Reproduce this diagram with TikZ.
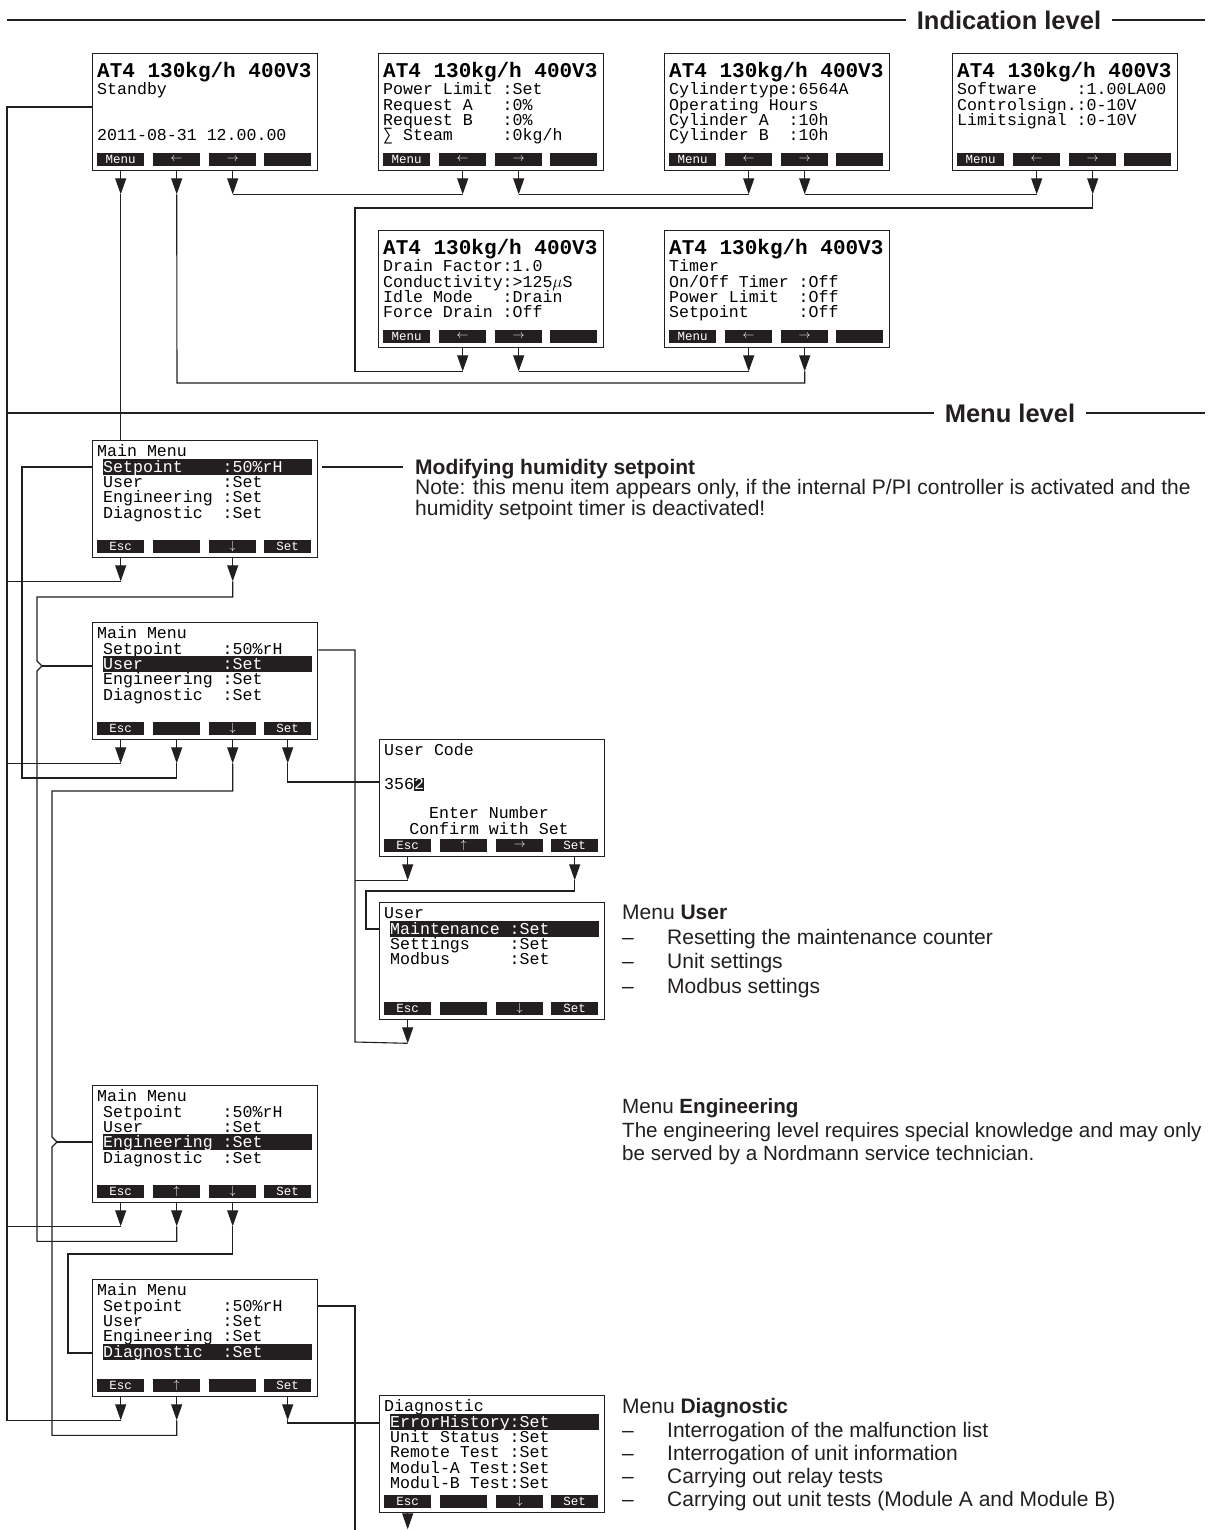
\documentclass[tikz,border=0pt]{standalone}
\usepackage{fontspec}
\setmainfont{Liberation Sans}
\setmonofont{Liberation Mono}
\newfontfamily\symfont{DejaVu Sans Mono}
\usetikzlibrary{positioning, calc, arrows.meta}
\definecolor{ink}{HTML}{231F20}

\newcommand{\lcdfont}{\ttfamily\fontsize{16.6}{15.4}\selectfont\lineskiplimit=-30pt}
\newcommand{\hl}[1]{\makebox[0pt][l]{\smash{\textcolor{ink}{\rule[-2.5pt]{209pt}{16pt}}}}\textcolor{white}{#1}}
\newcommand{\hlc}[1]{\makebox[0pt][l]{\smash{\textcolor{ink}{\rule[-1pt]{0.6em}{13pt}}}}\textcolor{white}{#1}}
\newcommand{\ind}{\hspace*{6pt}}
\newcommand{\sumc}{\makebox[0.6em]{\symfont ∑}}
\newcommand{\muc}{\makebox[0.6em]{$\mu$}}
\newcommand{\dashitem}[1]{\makebox[45pt][l]{–}#1}

\tikzset{
    lcdbox/.style={draw=ink, line width=1.3pt, minimum width=225pt, minimum height=117pt, inner sep=0pt, anchor=north west},
    softkey/.style={fill=ink, text=white, minimum width=47pt, minimum height=13pt, inner sep=0pt, anchor=south west, font=\ttfamily\fontsize{12.5}{13}\selectfont},
    lcdhead/.style={anchor=north west, inner sep=0pt, font=\ttfamily\bfseries\fontsize{21}{21}\selectfont},
    lcdtext/.style={anchor=north west, inner sep=0pt, align=left, font=\lcdfont},
    keyarr/.style={draw=ink, line width=1.1pt, -{Triangle[length=16pt,width=11pt]}},
    wire/.style={draw=ink, line width=1.1pt},
    levelline/.style={draw=ink, line width=1.1pt},
    levellabel/.style={fill=white, text=ink, inner xsep=11pt, inner ysep=2pt, font=\bfseries\fontsize{25.5}{26}\selectfont},
    notetext/.style={anchor=north west, inner sep=0pt, align=left, text=ink},
}

% one display: box and its four soft keys
\newcommand{\lcd}[7]{
    \node[lcdbox] (#1) at (#2,#3) {};
    \node[softkey] (#1-1) at ($(#1.south west)+(5,-5)$) {#4};
    \node[softkey] (#1-2) at ($(#1.south west)+(61,-5)$) {#5};
    \node[softkey] (#1-3) at ($(#1.south west)+(117,-5)$) {#6};
    \node[softkey] (#1-4) at ($(#1.south west)+(172,-5)$) {#7};
}
\newcommand{\athead}[1]{
    \node[lcdhead] (#1-t) at ($(#1.north west)+(5,8.5)$) {\rule{0pt}{16pt}AT4 130kg/h 400V3};
}
\newcommand{\lcdbody}[3]{
    \node[lcdtext] (#1-b) at ($(#1.north west)+(5,#2)$) {\rule{0pt}{13pt}#3};
}
\newcommand{\keyout}[2]{
    \draw[keyarr] (#1-#2 |- #1.south) -- ++(0,23) coordinate (#1-#2t);
}

\begin{document}
\begin{tikzpicture}[x=1pt, y=-1pt]
    \path[use as bounding box, fill=white] (0,0) rectangle (1219,1530);

    % levels
    \draw[levelline] (7,20) -- (1205,20);
    \node[levellabel] (indlevel) at (1009,20) {Indication level};
    \draw[levelline] (7,413) -- (1205,413);
    \node[levellabel] (menulevel) at (1010,413) {Menu level};

    % indication level
    \lcd{stby}{92}{53}{Menu}{$\leftarrow$}{$\rightarrow$}{}
    \athead{stby}
    \lcdbody{stby}{28.5}{Standby\\~\\~\\2011-08-31~12.00.00}
    \lcd{scr2}{378}{53}{Menu}{$\leftarrow$}{$\rightarrow$}{}
    \athead{scr2}
    \lcdbody{scr2}{28.5}{Power~Limit~:Set\\Request~A~~~:0\%\\Request~B~~~:0\%\\\sumc~Steam~~~~~:0kg/h}
    \lcd{scr3}{664}{53}{Menu}{$\leftarrow$}{$\rightarrow$}{}
    \athead{scr3}
    \lcdbody{scr3}{28.5}{Cylindertype:6564A\\Operating~Hours\\Cylinder~A~~:10h\\Cylinder~B~~:10h}
    \lcd{scr4}{952}{53}{Menu}{$\leftarrow$}{$\rightarrow$}{}
    \athead{scr4}
    \lcdbody{scr4}{28.5}{Software~~~~:1.00LA00\\Controlsign.:0-10V\\Limitsignal~:0-10V}
    \lcd{scr5}{378}{230}{Menu}{$\leftarrow$}{$\rightarrow$}{}
    \athead{scr5}
    \lcdbody{scr5}{28.5}{Drain~Factor:1.0\\Conductivity:>125\muc S\\Idle~Mode~~~:Drain\\Force~Drain~:Off}
    \lcd{scr6}{664}{230}{Menu}{$\leftarrow$}{$\rightarrow$}{}
    \athead{scr6}
    \lcdbody{scr6}{28.5}{Timer\\On/Off~Timer~:Off\\Power~Limit~~:Off\\Setpoint~~~~~:Off}

    \keyout{stby}{1}
    \keyout{stby}{2}
    \keyout{stby}{3}
    \keyout{scr2}{2}
    \keyout{scr2}{3}
    \keyout{scr3}{2}
    \keyout{scr3}{3}
    \keyout{scr4}{2}
    \keyout{scr4}{3}
    \keyout{scr5}{2}
    \keyout{scr5}{3}
    \keyout{scr6}{2}
    \keyout{scr6}{3}

    \coordinate (busA) at (355,208);
    \coordinate (busB) at (177,383);
    \draw[wire] (stby-3t) -- (scr2-2t);
    \draw[wire] (scr2-3t) -- (scr3-2t);
    \draw[wire] (scr3-3t) -- (scr4-2t);
    \draw[wire] (scr4-3t) |- (busA) |- (scr5-2t);
    \draw[wire] (scr5-3t) -- (scr6-2t);
    \draw[wire] (scr6-3t) |- (busB) -- (stby-2t);

    % menu level
    \lcd{mm1}{92}{440}{Esc}{}{$\downarrow$}{Set}
    \lcdbody{mm1}{3.5}{Main~Menu\\\ind\hl{Setpoint~~~~:50\%rH}\\\ind User~~~~~~~~:Set\\\ind Engineering~:Set\\\ind Diagnostic~~:Set}
    \lcd{mm2}{92}{622}{Esc}{}{$\downarrow$}{Set}
    \lcdbody{mm2}{3.5}{Main~Menu\\\ind Setpoint~~~~:50\%rH\\\ind\hl{User~~~~~~~~:Set}\\\ind Engineering~:Set\\\ind Diagnostic~~:Set}
    \lcd{uc}{379}{739}{Esc}{$\uparrow$}{$\rightarrow$}{Set}
    \lcdbody{uc}{3.5}{User~Code\\[18.6pt]356\hlc{2}}
    \node[lcdtext, align=center, anchor=north] (uc-c) at ($(uc.north west)+(110,66.5)$) {\rule{0pt}{13pt}Enter~Number\\Confirm~with~Set};
    \lcd{usr}{379}{902}{Esc}{}{$\downarrow$}{Set}
    \lcdbody{usr}{3.5}{User\\\ind\hl{Maintenance~:Set}\\\ind Settings~~~~:Set\\\ind Modbus~~~~~~:Set}
    \lcd{mm3}{92}{1085}{Esc}{$\uparrow$}{$\downarrow$}{Set}
    \lcdbody{mm3}{3.5}{Main~Menu\\\ind Setpoint~~~~:50\%rH\\\ind User~~~~~~~~:Set\\\ind\hl{Engineering~:Set}\\\ind Diagnostic~~:Set}
    \lcd{mm4}{92}{1279}{Esc}{$\uparrow$}{}{Set}
    \lcdbody{mm4}{3.5}{Main~Menu\\\ind Setpoint~~~~:50\%rH\\\ind User~~~~~~~~:Set\\\ind Engineering~:Set\\\ind\hl{Diagnostic~~:Set}}
    \lcd{diag}{379}{1395}{Esc}{}{$\downarrow$}{Set}
    \lcdbody{diag}{3.5}{Diagnostic\\\ind\hl{ErrorHistory:Set}\\\ind Unit~Status~:Set\\\ind Remote~Test~:Set\\\ind Modul-A~Test:Set\\\ind Modul-B~Test:Set}

    \keyout{mm1}{1}
    \keyout{mm1}{3}
    \keyout{mm2}{1}
    \keyout{mm2}{2}
    \keyout{mm2}{3}
    \keyout{mm2}{4}
    \keyout{uc}{1}
    \keyout{uc}{4}
    \keyout{usr}{1}
    \keyout{mm3}{1}
    \keyout{mm3}{2}
    \keyout{mm3}{3}
    \keyout{mm4}{1}
    \keyout{mm4}{2}
    \keyout{mm4}{4}
    \draw[keyarr] (diag-1 |- diag.south) -- ++(0,16) coordinate (diag-1t);

    \draw[wire] (stby-1t) -- (stby-1t |- mm1.north);

    \coordinate (escbus) at (7,107);
    \coordinate (upA) at (22,778);
    \coordinate (upB) at (37,597);
    \coordinate (upC) at (52,791);
    \coordinate (upD) at (68,1254);
    \coordinate (retU) at (355,1042);
    \coordinate (retD) at (355,1530);
    \coordinate (setU) at (366,891);

    % Esc back to standby
    \draw[wire] (mm4-1t) -| (escbus) -- (escbus -| stby.west);
    \draw[wire] (mm1-1t) -- (mm1-1t -| escbus);
    \draw[wire] (mm2-1t) -- (mm2-1t -| escbus);
    \draw[wire] (mm3-1t) -- (mm3-1t -| escbus);

    \draw[wire] (mm2-2t) |- (upA) |- ($(mm1.north west)+(0,27)$);
    \draw[wire] (mm1-3t) |- (upB) -- ++(0,64) -- ++(5,5) coordinate (kinkU) -- ++(-5,5) |- ($(mm3-2t)+(0,15)$) -- (mm3-2t);
    \draw[wire] (kinkU) -- (kinkU -| mm2.west);
    \draw[wire] (mm2-3t) |- (upC) -- ++(0,346) -- ++(5,5) coordinate (kinkE) -- ++(-5,5) |- ($(mm4-2t)+(0,15)$) -- (mm4-2t);
    \draw[wire] (kinkE) -- (kinkE -| mm3.west);
    \draw[wire] (mm3-3t) |- (upD) |- ($(mm4.north west)+(0,74)$);

    \draw[wire] (mm2-4t) |- ($(uc.north west)+(0,43)$);
    \draw[wire] ($(mm2.north east)+(0,28)$) -| (retU) -- (usr-1t);
    \draw[wire] (uc-1t) -- (uc-1t -| retU);
    \draw[wire] (uc-4t) |- (setU) |- ($(usr.north west)+(0,27)$);
    \draw[wire] ($(mm4.north east)+(0,27)$) -| (retD);
    \draw[wire] (mm4-4t) |- ($(diag.north west)+(0,28)$);
    \draw[wire] ($(mm1.north east)+(4,27)$) -- ++(81,0);

    % explanations
    \node[notetext, font={\fontsize{21}{20.5}\selectfont\lineskiplimit=-30pt}] (spnote) at (415,457) {\rule{0pt}{17pt}\textbf{Modifying humidity setpoint}\\Note: this menu item appears only, if the internal P/PI controller is activated and the\\humidity setpoint timer is deactivated!};
    \node[notetext, font={\fontsize{21}{24.5}\selectfont\lineskiplimit=-30pt}] (usernote) at (622,902.5) {\rule{0pt}{17pt}Menu \textbf{User}\\\dashitem{Resetting the maintenance counter}\\\dashitem{Unit settings}\\\dashitem{Modbus settings}};
    \node[notetext, font={\fontsize{20.6}{23.5}\selectfont\lineskiplimit=-30pt}] (engnote) at (622,1096.5) {\rule{0pt}{17pt}Menu \textbf{Engineering}\\The engineering level requires special knowledge and may only\\be served by a Nordmann service technician.};
    \node[notetext, font={\fontsize{21}{23.3}\selectfont\lineskiplimit=-30pt}] (diagnote) at (622,1396.5) {\rule{0pt}{17pt}Menu \textbf{Diagnostic}\\\dashitem{Interrogation of the malfunction list}\\\dashitem{Interrogation of unit information}\\\dashitem{Carrying out relay tests}\\\dashitem{Carrying out unit tests (Module A and Module B)}};
\end{tikzpicture}
\end{document}
